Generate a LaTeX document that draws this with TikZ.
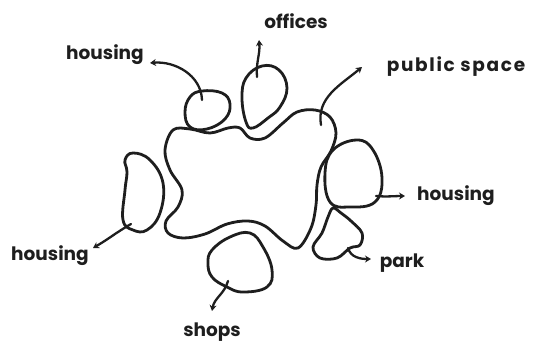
\documentclass[tikz,border=0pt]{standalone}
\usepackage{fontspec}
\setmainfont{Poppins}
\usetikzlibrary{arrows.meta}
\definecolor{ink}{HTML}{1E1E1E}
\tikzset{
  blob/.style={draw=ink, line width=2.8pt, line join=round},
  conn/.style={draw=ink, line width=2.3pt, line cap=round, -{Stealth[length=6pt,width=7pt]}},
  lbl/.style={text=ink, font=\fontsize{18.5}{20}\selectfont\bfseries, inner sep=0pt}
}
\begin{document}
\begin{tikzpicture}[x=1pt,y=-1pt]
\useasboundingbox (0,0) rectangle (535,351);
% central public space
\draw[blob] plot[smooth cycle, tension=0.6] coordinates {
 (173,130) (190,129) (210,133) (228,128) (240,128) (250,138) (265,138)
 (283,123) (297,112) (315,110) (330,117) (336,133) (331,151) (321,167)
 (317,185) (316,205) (311,228) (298,248) (283,241) (265,226) (248,221)
 (227,224) (205,234) (183,238) (168,233) (166,221) (178,207) (182,190)
 (170,170) (165,150)};
% top-left housing blob
\draw[blob] plot[smooth cycle, tension=0.7] coordinates {
 (202,91) (222,93) (230,104) (225,119) (207,129) (190,127) (185,112) (190,97)};
% offices blob
\draw[blob] plot[smooth cycle, tension=0.7] coordinates {
 (262,66) (279,70) (287,88) (280,107) (268,118) (253,128) (246,122) (242,98) (246,78)};
% right housing blob
\draw[blob] plot[smooth cycle, tension=0.7] coordinates {
 (357,140) (373,150) (382,178) (375,202) (350,207) (330,202) (325,173) (333,150)};
% park blob
\draw[blob] plot[smooth cycle, tension=0.6] coordinates {
 (333,208) (341,213) (351,221) (362,233) (360,245) (350,248) (337,258)
 (320,258) (313,247) (322,233) (328,217)};
% left housing blob
\draw[blob] plot[smooth cycle, tension=0.7] coordinates {
 (133,153) (150,160) (163,183) (160,213) (147,230) (133,230) (123,220)
 (125,190) (127,172) (125,160)};
% shops blob
\draw[blob] plot[smooth cycle, tension=0.7] coordinates {
 (230,237) (250,233) (263,247) (272,270) (267,287) (243,292) (227,287)
 (212,277) (208,263) (212,250)};

% labels
\node[lbl] (lhtl) at (105,55) {housing};
\node[lbl] (loff) at (296,21) {offices};
\node[lbl, font=\fontsize{18.5}{20}\selectfont\bfseries\addfontfeatures{LetterSpace=9}] (lpub) at (456,67) {public space};
\node[lbl] (lhr) at (456,196) {housing};
\node[lbl] (lpark) at (402,263) {park};
\node[lbl] (lhl) at (50,256) {housing};
\node[lbl] (lshop) at (212,332) {shops};

% connector ends
\coordinate (s1) at (202,100); \coordinate (e1) at (150,63);
\coordinate (s2) at (257,77);  \coordinate (e2) at (259,40);
\coordinate (s3) at (321,125); \coordinate (e3) at (362,67);
\coordinate (s4) at (376,196); \coordinate (e4) at (405,196);
\coordinate (s5) at (348,248); \coordinate (e5) at (371,259);
\coordinate (s6) at (131,224); \coordinate (e6) at (93,248);
\coordinate (s7) at (228,281); \coordinate (e7) at (212,311);

\draw[conn] (s1) to[out=92,in=5] (e1);
\draw[conn] (s2) to[out=95,in=-85] (e2);
\draw[conn] (s3) to[out=100,in=220] (e3);
\draw[conn] (s4) to[out=-5,in=180] (e4);
\draw[conn] (s5) to[out=-75,in=180] (e5);
\draw[conn] (s6) to[out=210,in=30] (e6);
\draw[conn] (s7) to[out=-105,in=80] (e7);
\end{tikzpicture}
\end{document}
